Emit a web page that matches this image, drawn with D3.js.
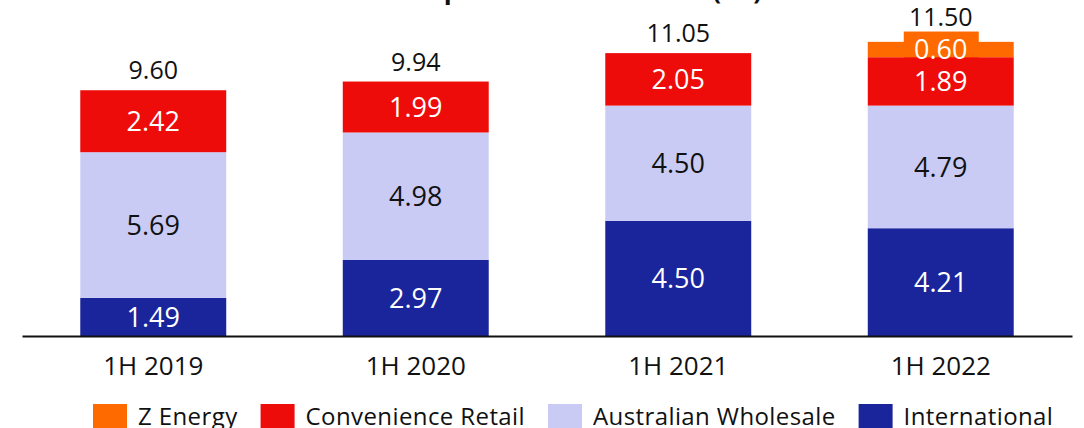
<!DOCTYPE html>
<html>
<head>
<meta charset="utf-8">
<script src="https://cdn.jsdelivr.net/npm/d3@7"></script>
<style>
  body { margin: 0; background: #fff; }
  text { font-family: "Open Sans", "Noto Sans", sans-serif; }
</style>
</head>
<body>
<div id="chart"></div>
<script>
// chart data
var periods = ["1H 2019", "1H 2020", "1H 2021", "1H 2022"];
var international = [1.49, 2.97, 4.50, 4.21];
var australianWholesale = [5.69, 4.98, 4.50, 4.79];
var convenienceRetail = [2.42, 1.99, 2.05, 1.89];
var zEnergy = [0, 0, 0, 0.60];
var totals = ["9.60", "9.94", "11.05", "11.50"];
var seriesNames = ["International", "Australian Wholesale", "Convenience Retail", "Z Energy"];
var legendOrder = ["Z Energy", "Convenience Retail", "Australian Wholesale", "International"];

var svgWidth = 1084;
var svgHeight = 428;

var colors = {
  "International": "#1b259b",
  "Australian Wholesale": "#c9cbf5",
  "Convenience Retail": "#ed0c09",
  "Z Energy": "#ff6a00"
};
var labelColors = {
  "International": "#fff",
  "Australian Wholesale": "#111",
  "Convenience Retail": "#fff",
  "Z Energy": "#fff"
};

var svg = d3.select("#chart")
  .append("svg")
  .attr("width", svgWidth)
  .attr("height", svgHeight);

// build the table for d3.stack
var table = periods.map(function(p, i) {
  return {
    period: p,
    "International": international[i],
    "Australian Wholesale": australianWholesale[i],
    "Convenience Retail": convenienceRetail[i],
    "Z Energy": zEnergy[i]
  };
});
var stacked = d3.stack().keys(seriesNames)(table);

var xScale = d3.scaleBand()
  .domain(periods)
  .range([22, 1072])
  .paddingInner(0.444)
  .paddingOuter(0.222);

var yScale = d3.scaleLinear()
  .domain([0, 10])
  .range([336, 80]);

// title, mostly cut off at the top
svg.append("text")
  .attr("x", 762)
  .attr("y", -1)
  .attr("text-anchor", "end")
  .attr("font-size", 26)
  .attr("font-weight", "bold")
  .attr("fill", "#111")
  .text("Group fuel sales volumes (BL)");

var chartGroup = svg.append("g");

var mid = d => (yScale(d[1]) + yScale(d[0])) / 2;

// background box behind the Z Energy label
var zLayer = stacked[3];
chartGroup.selectAll(".zbox")
  .data(zLayer.filter(d => d[1] - d[0] > 0))
  .enter()
  .append("rect")
  .attr("class", "zbox")
  .attr("x", d => xScale(d.data.period) + xScale.bandwidth() / 2 - 37)
  .attr("width", 75)
  .attr("y", d => mid(d) - 18)
  .attr("height", 36)
  .attr("fill", colors["Z Energy"]);

// stacked segments
stacked.forEach(function(layer) {
  chartGroup.selectAll(".seg-" + layer.index)
    .data(layer.filter(d => d[1] - d[0] > 0))
    .enter()
    .append("rect")
    .attr("class", "seg-" + layer.index)
    .attr("x", d => xScale(d.data.period))
    .attr("width", xScale.bandwidth())
    .attr("y", d => yScale(d[1]))
    .attr("height", d => yScale(d[0]) - yScale(d[1]))
    .attr("fill", colors[layer.key]);
});

// segment labels
stacked.forEach(function(layer) {
  chartGroup.selectAll(".lab-" + layer.index)
    .data(layer.filter(d => d[1] - d[0] > 0))
    .enter()
    .append("text")
    .attr("class", "lab-" + layer.index)
    .attr("x", d => xScale(d.data.period) + xScale.bandwidth() / 2)
    .attr("y", mid)
    .attr("dy", "0.36em")
    .attr("text-anchor", "middle")
    .attr("font-size", 27)
    .attr("fill", labelColors[layer.key])
    .text(d => (d[1] - d[0]).toFixed(2));
});

// totals on top (above the Z Energy label box when there is one)
var topLayer = stacked[stacked.length - 1];
chartGroup.selectAll(".total")
  .data(topLayer)
  .enter()
  .append("text")
  .attr("class", "total")
  .attr("x", d => xScale(d.data.period) + xScale.bandwidth() / 2)
  .attr("y", function(d) {
    var y = yScale(d[1]) - 11;
    if (d[1] - d[0] > 0) y = Math.min(y, mid(d) - 18 - 6);
    return y;
  })
  .attr("text-anchor", "middle")
  .attr("font-size", 25)
  .attr("fill", "#111")
  .text((d, i) => totals[i]);

// x axis
var xAxis = d3.axisBottom(xScale).tickSize(0).tickPadding(21);
var axisG = chartGroup.append("g")
  .attr("transform", "translate(0, 336)")
  .call(xAxis);
axisG.select(".domain").attr("stroke", "#111").attr("stroke-width", 2);
axisG.selectAll(".tick text")
  .attr("font-size", 26)
  .attr("font-family", "'Open Sans', 'Noto Sans', sans-serif")
  .attr("fill", "#111");

// legend
var legend = svg.append("g");
var lx = 93;
legendOrder.forEach(function(name) {
  legend.append("rect")
    .attr("x", lx)
    .attr("y", 404)
    .attr("width", 34)
    .attr("height", 26)
    .attr("fill", colors[name]);
  var t = legend.append("text")
    .attr("x", lx + 45)
    .attr("y", 425)
    .attr("font-size", 24)
    .attr("letter-spacing", 0.4)
    .attr("fill", "#111")
    .text(name);
  lx = lx + 45 + t.node().getComputedTextLength() + 23;
});
</script>
</body>
</html>
